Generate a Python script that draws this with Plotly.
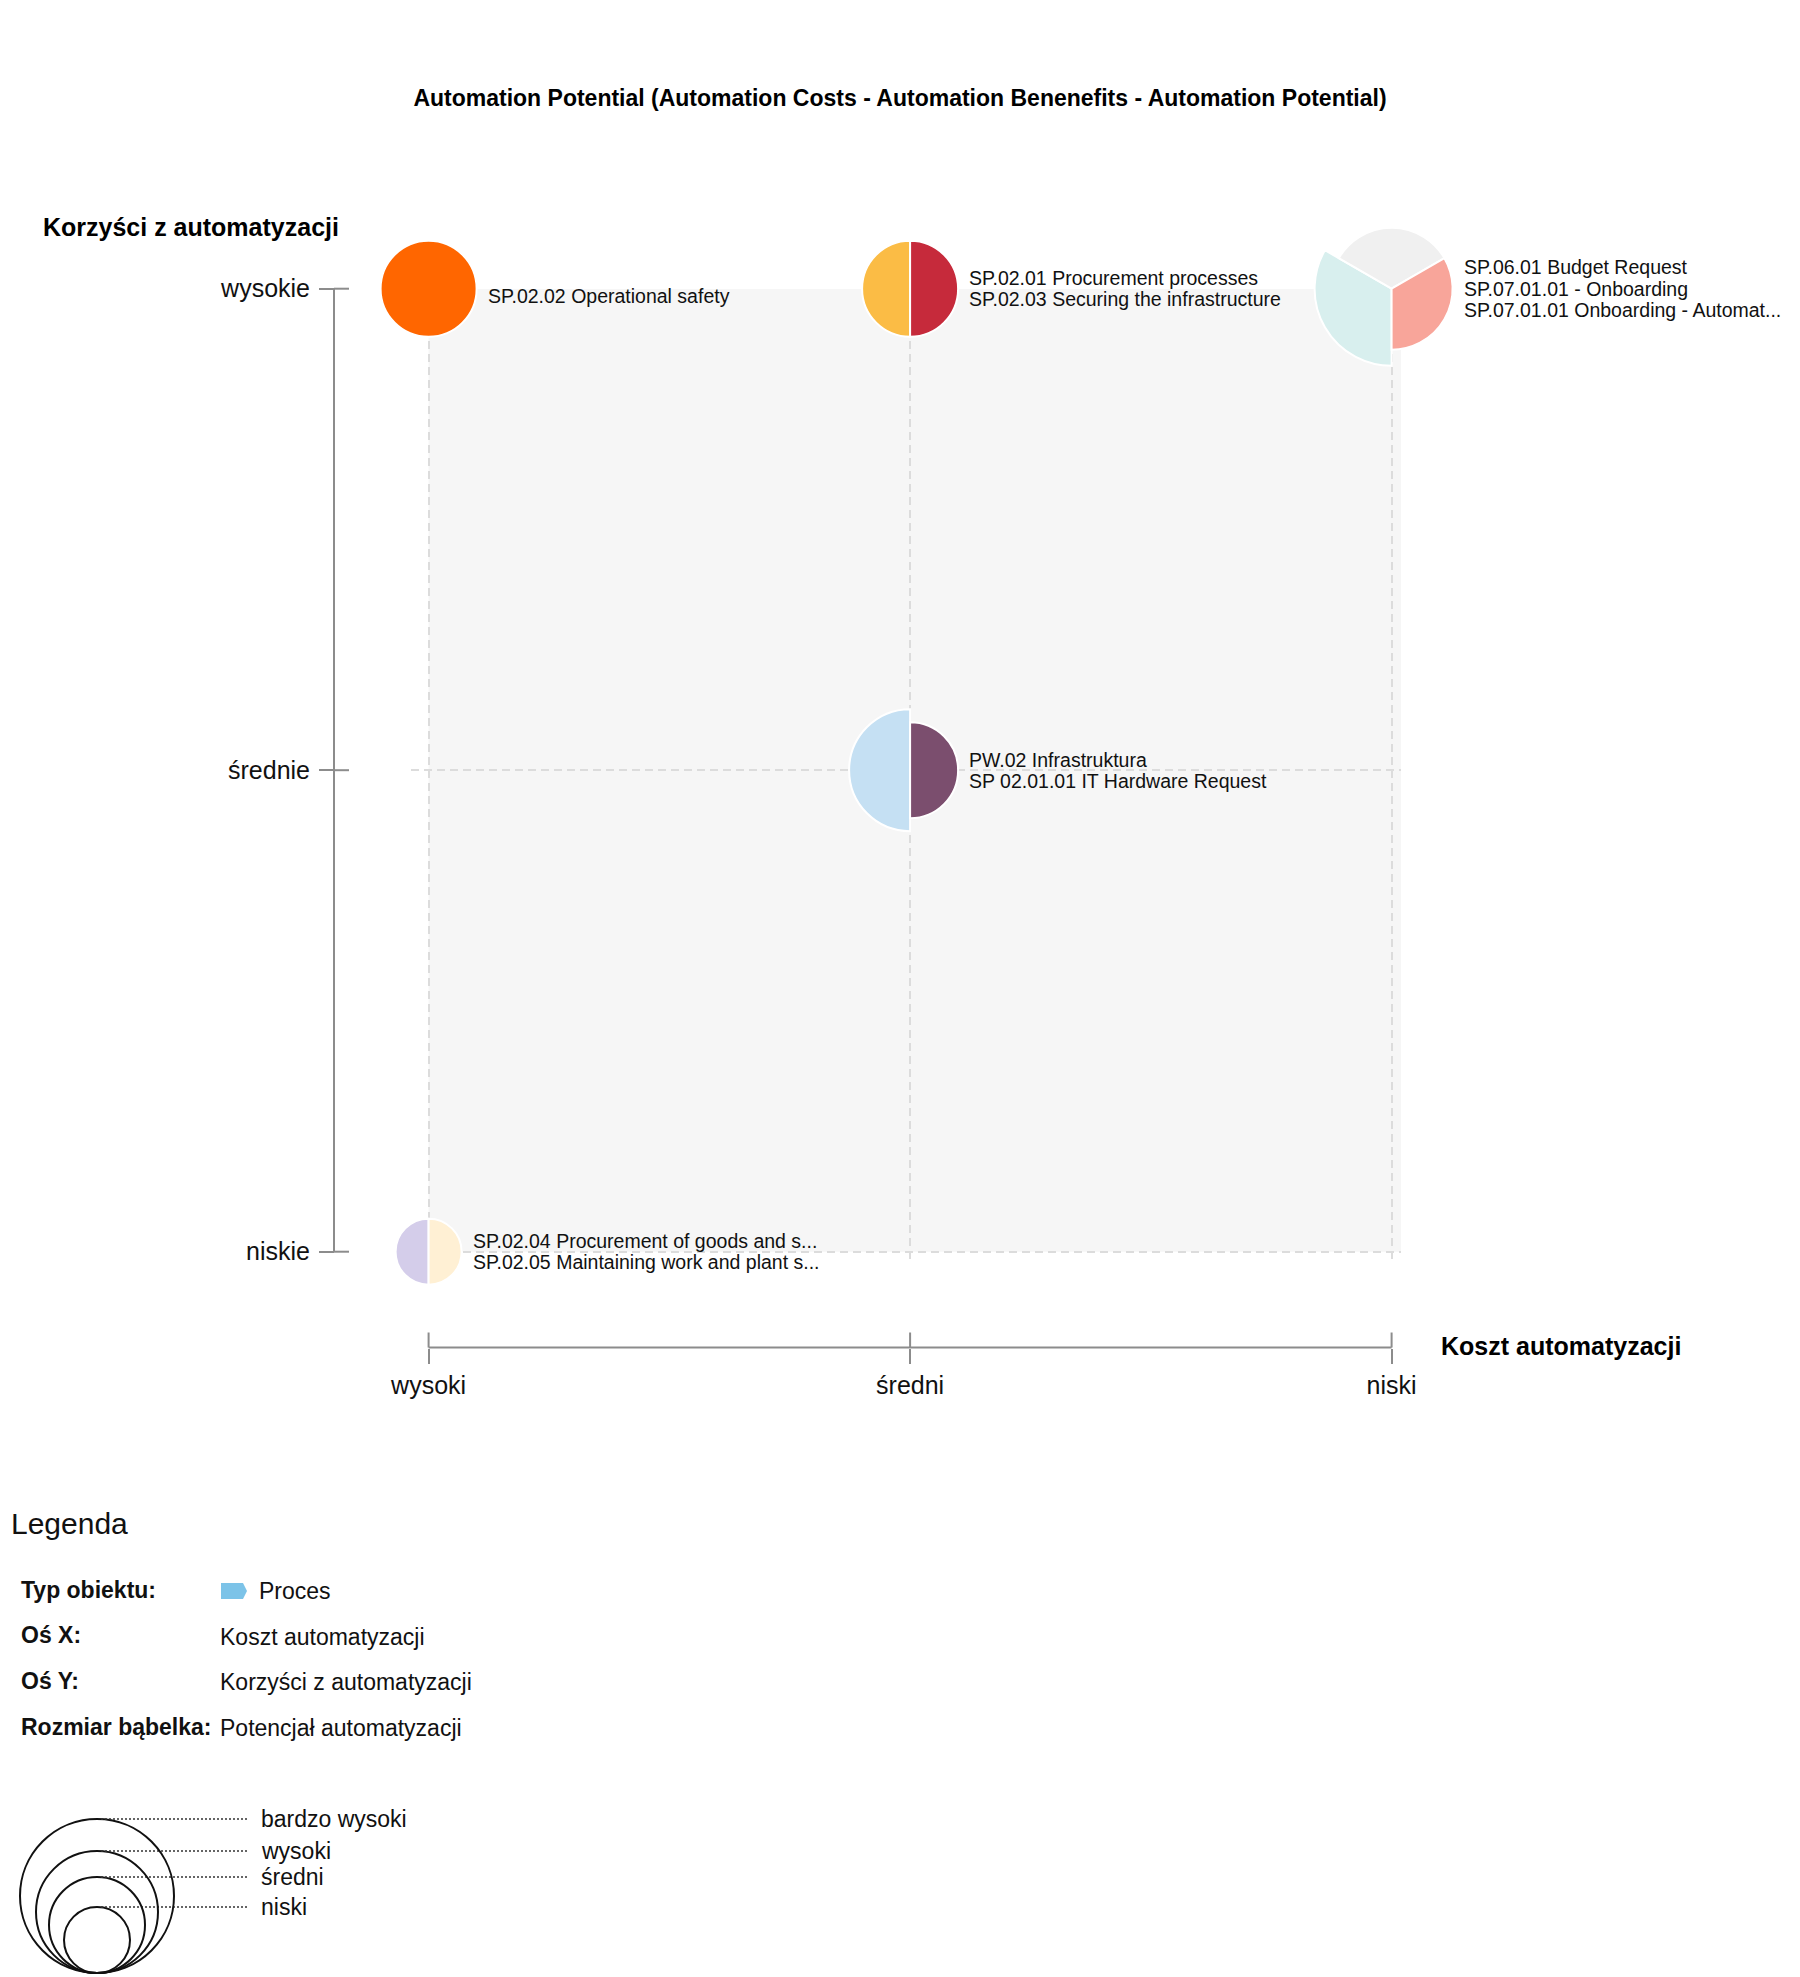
import plotly.graph_objects as go

# ------------------------------------------------------------------ data
cost_levels = ["wysoki", "średni", "niski"]            # x axis, left -> right
benefit_levels = ["niskie", "średnie", "wysokie"]      # y axis, bottom -> top
potential_levels = ["niski", "średni", "wysoki", "bardzo wysoki"]
potential_radius_px = [33, 48, 61, 77]

process_names = [
    "SP.02.02 Operational safety",
    "SP.02.01 Procurement processes",
    "SP.02.03 Securing the infrastructure",
    "SP.06.01 Budget Request",
    "SP.07.01.01 - Onboarding",
    "SP.07.01.01 Onboarding - Automat...",
    "PW.02 Infrastruktura",
    "SP 02.01.01 IT Hardware Request",
    "SP.02.04 Procurement of goods and s...",
    "SP.02.05 Maintaining work and plant s...",
]
process_cost = ["wysoki", "średni", "średni", "niski", "niski", "niski",
                "średni", "średni", "wysoki", "wysoki"]
process_benefit = ["wysokie", "wysokie", "wysokie", "wysokie", "wysokie", "wysokie",
                   "średnie", "średnie", "niskie", "niskie"]
process_potential = ["średni", "średni", "średni", "bardzo wysoki", "wysoki", "wysoki",
                     "wysoki", "średni", "niski", "niski"]
process_colors = ["#FF6600", "#FBBC45", "#C62A3B", "#D8EFEE", "#F0F0F0", "#F8A59A",
                  "#C5E0F3", "#7B4E6E", "#D4CDEA", "#FFF0D4"]

title_text = "Automation Potential (Automation Costs - Automation Benenefits - Automation Potential)"
y_title = "Korzyści z automatyzacji"
x_title = "Koszt automatyzacji"
legend_title = "Legenda"
legend_keys = ["Typ obiektu:", "Oś X:", "Oś Y:", "Rozmiar bąbelka:"]
legend_values = ["Proces", "Koszt automatyzacji", "Korzyści z automatyzacji", "Potencjał automatyzacji"]

# ------------------------------------------------------------------ geometry / style
FONT = "Liberation Sans, Arial, sans-serif"
W, H = 1800, 1977
PAGE_OFF = 8          # page body margin in the browser
X0_PX, Y0_PX, UNIT_PX = 428.6, 1251.7, 481.5
X_RANGE = [-0.037, 2.02]
Y_RANGE = [-0.02, 2.0]
AXIS_C = "#8c8c8c"
GRID_C = "#dcdcdc"
TXT = "#111111"


def px_x(v):
    return X0_PX + v * UNIT_PX


def px_y(v):
    return Y0_PX - v * UNIT_PX


def fx(px):
    return (px - PAGE_OFF) / W


def fy(py):
    return 1 - (py - PAGE_OFF) / H


radius_of = dict(zip(potential_levels, potential_radius_px))
xi = [cost_levels.index(c) for c in process_cost]
yi = [benefit_levels.index(b) for b in process_benefit]

fig = go.Figure()
fig.add_trace(go.Scatter(x=xi, y=yi, mode="markers", marker=dict(size=1, opacity=0),
                         text=process_names, hoverinfo="text", showlegend=False))

groups = {}
for i in range(len(process_names)):
    groups.setdefault((xi[i], yi[i]), []).append(i)

RMAX = 80
annotations = []
polars = {}
for k, ((gx, gy), members) in enumerate(groups.items()):
    pid = "polar" if k == 0 else f"polar{k + 1}"
    cx, cy = px_x(gx), px_y(gy)
    n = len(members)
    span = 360.0 / n
    fig.add_trace(go.Barpolar(
        r=[radius_of[process_potential[i]] for i in members],
        theta=[(180 + (j + 0.5) * span) % 360 for j in range(n)],
        width=[span] * n,
        marker=dict(color=[process_colors[i] for i in members],
                    line=dict(color="white", width=2)),
        hovertext=[process_names[i] for i in members], hoverinfo="text",
        subplot=pid, showlegend=False))
    polars[pid] = dict(
        domain=dict(x=[fx(cx - RMAX), fx(cx + RMAX)], y=[fy(cy + RMAX), fy(cy - RMAX)]),
        bgcolor="rgba(0,0,0,0)",
        radialaxis=dict(visible=False, range=[0, RMAX]),
        angularaxis=dict(visible=False, rotation=90, direction="clockwise"),
    )
    r_right = radius_of[process_potential[members[-1]]]
    for j, i in enumerate(members):
        dy = (j - (n - 1) / 2) * 21.4 + (7.5 if n == 1 else 0)
        annotations.append(dict(
            x=fx(cx + r_right + 9), y=fy(cy + dy), xref="paper", yref="paper",
            text=process_names[i], showarrow=False, xanchor="left", yanchor="middle",
            font=dict(size=19.5, color=TXT, family=FONT)))

shapes = []
# quadrant background
shapes.append(dict(type="rect", xref="x", yref="y", x0=0, x1=X_RANGE[1], y0=0, y1=2,
                   fillcolor="#F6F6F6", line=dict(width=0), layer="below"))
# y axis line + inner tick halves
YAX_PX = 334
shapes.append(dict(type="line", xref="paper", yref="paper", x0=fx(YAX_PX), x1=fx(YAX_PX),
                   y0=fy(px_y(0)), y1=fy(px_y(len(benefit_levels) - 1)),
                   line=dict(color=AXIS_C, width=2)))
for v in range(len(benefit_levels)):
    shapes.append(dict(type="line", xref="paper", yref="paper", x0=fx(YAX_PX), x1=fx(YAX_PX + 15),
                       y0=fy(px_y(v)), y1=fy(px_y(v)), line=dict(color=AXIS_C, width=2)))
# x axis line + inner tick halves
XAX_PX = 1347.5
shapes.append(dict(type="line", xref="paper", yref="paper", x0=fx(px_x(0)),
                   x1=fx(px_x(len(cost_levels) - 1)), y0=fy(XAX_PX), y1=fy(XAX_PX),
                   line=dict(color=AXIS_C, width=2)))
for v in range(len(cost_levels)):
    shapes.append(dict(type="line", xref="paper", yref="paper", x0=fx(px_x(v)), x1=fx(px_x(v)),
                       y0=fy(XAX_PX), y1=fy(XAX_PX - 15), line=dict(color=AXIS_C, width=2)))

# axis titles
annotations.append(dict(x=fx(41), y=fy(227), xref="paper", yref="paper", text=y_title,
                        showarrow=False, xanchor="left", yanchor="middle",
                        font=dict(size=25, color="#000", family=FONT, weight="bold")))
annotations.append(dict(x=fx(1439), y=fy(1346), xref="paper", yref="paper", text=x_title,
                        showarrow=False, xanchor="left", yanchor="middle",
                        font=dict(size=25, color="#000", family=FONT, weight="bold")))

# ------------------------------------------------------------------ legend block
annotations.append(dict(x=fx(9), y=fy(1523), xref="paper", yref="paper", text=legend_title,
                        showarrow=False, xanchor="left", yanchor="middle",
                        font=dict(size=30, color=TXT, family=FONT)))
for r, (key, val) in enumerate(zip(legend_keys, legend_values)):
    yy = 1591 + r * 45.7
    annotations.append(dict(x=fx(19), y=fy(yy - 1.5), xref="paper", yref="paper", text=key,
                            showarrow=False, xanchor="left", yanchor="middle",
                            font=dict(size=23, color=TXT, family=FONT, weight="bold")))
    vx = 257 if r == 0 else 218
    annotations.append(dict(x=fx(vx), y=fy(yy), xref="paper", yref="paper", text=val,
                            showarrow=False, xanchor="left", yanchor="middle",
                            font=dict(size=23, color=TXT, family=FONT)))
# process icon
ix0, ix1, iy0, iy1 = 221, 247, 1583, 1599
shapes.append(dict(type="path", xref="paper", yref="paper",
                   path=(f"M {fx(ix0)},{fy(iy0)} L {fx(ix1 - 4)},{fy(iy0)} L {fx(ix1)},{fy((iy0 + iy1) / 2)} "
                         f"L {fx(ix1 - 4)},{fy(iy1)} L {fx(ix0)},{fy(iy1)} Z"),
                   fillcolor="#7CC3E8", line=dict(width=0)))

# bubble size legend
BCX, BBOT = 97, 1973
for lvl, rad in zip(potential_levels, potential_radius_px):
    top = BBOT - 2 * rad
    shapes.append(dict(type="circle", xref="paper", yref="paper",
                       x0=fx(BCX - rad), x1=fx(BCX + rad), y0=fy(BBOT), y1=fy(top),
                       line=dict(color="#111", width=2), fillcolor="rgba(0,0,0,0)"))
    shapes.append(dict(type="line", xref="paper", yref="paper", x0=fx(BCX + 4), x1=fx(248),
                       y0=fy(top), y1=fy(top), line=dict(color="#333", width=1.5, dash="2px,2px")))
    annotations.append(dict(x=fx(259), y=fy(top), xref="paper", yref="paper", text=lvl,
                            showarrow=False, xanchor="left", yanchor="middle",
                            font=dict(size=23, color=TXT, family=FONT)))

fig.update_layout(
    width=W, height=H,
    margin=dict(l=0, r=0, t=0, b=0, pad=0),
    paper_bgcolor="white", plot_bgcolor="rgba(0,0,0,0)",
    font=dict(family=FONT, color=TXT),
    showlegend=False,
    title=dict(text=title_text, x=fx(900), xanchor="center", xref="paper", y=fy(98), yanchor="middle",
               font=dict(size=23, color="#000", family=FONT, weight="bold")),
    xaxis=dict(domain=[fx(px_x(X_RANGE[0])), fx(px_x(X_RANGE[1]))], range=X_RANGE,
               anchor="free", position=fy(XAX_PX), tickmode="array",
               tickvals=list(range(len(cost_levels))), ticktext=cost_levels,
               ticks="outside", ticklen=15, tickwidth=2, tickcolor=AXIS_C,
               showline=False, zeroline=False, showgrid=True, gridcolor=GRID_C,
               griddash="8px,5px", gridwidth=2, automargin=False,
               tickfont=dict(size=25, color=TXT, family=FONT), fixedrange=True),
    yaxis=dict(domain=[fy(px_y(Y_RANGE[0])), fy(px_y(Y_RANGE[1]))], range=Y_RANGE,
               anchor="free", position=fx(YAX_PX), tickmode="array",
               tickvals=list(range(len(benefit_levels))), ticktext=benefit_levels,
               ticks="outside", ticklen=15, tickwidth=2, tickcolor=AXIS_C,
               showline=False, zeroline=False, showgrid=True, gridcolor=GRID_C,
               griddash="8px,5px", gridwidth=2, automargin=False, ticklabelstandoff=4,
               tickfont=dict(size=25, color=TXT, family=FONT), fixedrange=True),
    shapes=shapes,
    annotations=annotations,
    **polars,
)

fig.write_html("out.html")
